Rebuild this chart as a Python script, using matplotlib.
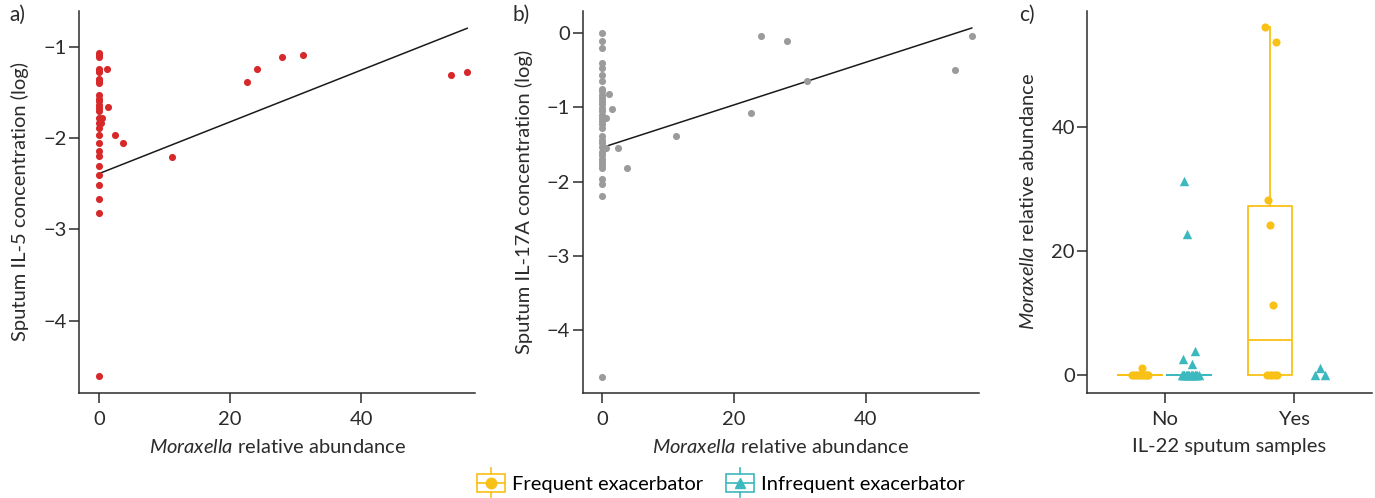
import matplotlib
matplotlib.use('Agg')
from matplotlib import pyplot as plt
from matplotlib.legend_handler import HandlerBase
from matplotlib.lines import Line2D
from matplotlib.patches import Rectangle

plt.rcParams['font.family'] = ['Lato', 'DejaVu Sans']
plt.rcParams['mathtext.fontset'] = 'custom'
plt.rcParams['mathtext.rm'] = 'Lato'
plt.rcParams['mathtext.it'] = 'Lato:italic'
plt.rcParams['font.size'] = 14.5

# --- a) IL-5 vs Moraxella -------------------------------------------------
il5_abund = [
    0, 0, 0, 0, 0, 0, 0, 0, 0, 0, 0, 0, 0, 0,
    0, 0, 0, 0, 0, 0, 0, 0, 0, 0, 0, 0, 0, 0,
    1.17, 1.42, 0.5, 0.25, 2.44, 3.7, 11.2, 22.6, 24.1, 28.0, 31.2, 53.8, 56.2,
]
il5_conc = [
    -1.07, -1.09, -1.11, -1.24, -1.27, -1.28, -1.36, -1.38, -1.40, -1.53, -1.57, -1.60, -1.64, -1.67,
    -1.71, -1.78, -1.84, -1.89, -1.97, -2.05, -2.14, -2.20, -2.31, -2.41, -2.52, -2.67, -2.82, -4.60,
    -1.24, -1.66, -1.78, -1.84, -1.97, -2.05, -2.21, -1.39, -1.24, -1.11, -1.09, -1.31, -1.28,
]
il5_fit = (-2.39, 0.0283)  # intercept, slope

# --- b) IL-17A vs Moraxella -----------------------------------------------
il17_abund = [
    0, 0, 0, 0, 0, 0, 0, 0, 0, 0, 0, 0, 0, 0, 0, 0, 0,
    0, 0, 0, 0, 0, 0, 0, 0, 0, 0, 0, 0, 0, 0, 0, 0, 0,
    0.97, 1.48, 0.56, 0.5, 2.29, 3.7, 11.1, 22.5, 24.1, 28.1, 31.1, 53.6, 56.1,
]
il17_conc = [
    0.0, -0.11, -0.20, -0.40, -0.47, -0.56, -0.64, -0.75, -0.78, -0.83, -0.87, -0.92, -0.96, -1.01, -1.05, -1.10, -1.14,
    -1.19, -1.23, -1.28, -1.39, -1.44, -1.48, -1.53, -1.60, -1.64, -1.69, -1.73, -1.78, -1.82, -1.96, -2.03, -2.20, -4.63,
    -0.82, -1.02, -1.14, -1.55, -1.55, -1.82, -1.38, -1.07, -0.04, -0.10, -0.65, -0.49, -0.04,
]
il17_fit = (-1.54, 0.0287)

# --- c) Moraxella by IL-22 detection and exacerbator status ---------------
il22_groups = ['No', 'Yes']
exacerbators = ['Frequent exacerbator', 'Infrequent exacerbator']

no_freq = [0, 0, 0, 0, 0, 0, 0, 0, 0, 0, 1.2]
no_freq_jitter = [-0.255, -0.24, -0.225, -0.21, -0.195, -0.18, -0.165, -0.15, -0.14, -0.13, -0.178]
no_infreq = [0, 0, 0, 0, 0, 0, 0, 0, 0, 0, 0, 0, 0, 0, 0, 0, 31.2, 22.7, 3.9, 2.6, 1.8]
no_infreq_jitter = [0.13, 0.14, 0.15, 0.16, 0.17, 0.18, 0.19, 0.20, 0.21, 0.22, 0.23, 0.24, 0.25, 0.26,
                    0.145, 0.235, 0.147, 0.173, 0.232, 0.137, 0.206]
yes_freq = [55.97, 53.6, 28.2, 24.1, 11.3, 0, 0, 0, 0, 0]
yes_freq_jitter = [-0.222, -0.139, -0.206, -0.183, -0.16, -0.21, -0.19, -0.17, -0.15, -0.13]
yes_infreq = [0.1, 1.1, 0.1]
yes_infreq_jitter = [0.16, 0.20, 0.237]

RED = '#D7282A'
GREY = '#9B9B9B'
YELLOW = '#F9C015'
TEAL = '#3CB9BF'
INK = '#2b2b2b'


def style(ax: plt.Axes) -> None:
    for side in ('top', 'right'):
        ax.spines[side].set_visible(False)
    for side in ('left', 'bottom'):
        ax.spines[side].set_linewidth(1.1)
        ax.spines[side].set_color(INK)
    ax.tick_params(direction='out', length=7, width=1.1, color=INK, labelcolor=INK, labelsize=14.5)
    ax.tick_params(axis='x', pad=6)
    ax.tick_params(axis='y', pad=2)


def scatter_panel(ax, x, y, fit, colour, ylabel, xlim, ylim, yticks):
    style(ax)
    ax.scatter(x, y, s=26, color=colour, linewidths=0, zorder=3)
    x0, x1 = 0, max(x)
    b0, b1 = fit
    ax.plot([x0, x1], [b0 + b1 * x0, b0 + b1 * x1], color='#1a1a1a', linewidth=1.1, zorder=2)
    ax.set_xlim(*xlim)
    ax.set_ylim(*ylim)
    ax.set_xticks([0, 20, 40])
    ax.set_yticks(yticks)
    ax.set_xlabel(r'$\mathit{Moraxella}$ relative abundance', color=INK, labelpad=7)
    ax.set_ylabel(ylabel, color=INK, labelpad=10)


class BoxHandler(HandlerBase):
    def __init__(self, colour, marker):
        super().__init__()
        self.colour = colour
        self.marker = marker

    def create_artists(self, legend, orig_handle, xdescent, ydescent, width, height, fontsize, trans):
        cx, cy = width / 2 - xdescent, height / 2 - ydescent
        bw, bh = width * 0.92, height * 1.0
        box = Rectangle((cx - bw / 2, cy - bh / 2), bw, bh, facecolor='white',
                        edgecolor=self.colour, linewidth=1.2, transform=trans)
        med = Line2D([cx - bw / 2, cx + bw / 2], [cy, cy], color=self.colour, linewidth=1.2, transform=trans)
        up = Line2D([cx, cx], [cy + bh / 2, cy + bh / 2 + 4], color=self.colour, linewidth=1.2, transform=trans)
        dn = Line2D([cx, cx], [cy - bh / 2, cy - bh / 2 - 4], color=self.colour, linewidth=1.2, transform=trans)
        mk = Line2D([cx], [cy], marker=self.marker, markersize=7.5, color=self.colour,
                    linestyle='none', transform=trans)
        return [box, med, up, dn, mk]


fig = plt.figure(figsize=(13.75, 4.98), dpi=100)
ax_a = fig.add_axes([0.0575, 0.211, 0.288, 0.767])
ax_b = fig.add_axes([0.4238, 0.211, 0.2882, 0.767])
ax_c = fig.add_axes([0.7908, 0.211, 0.2068, 0.767])

scatter_panel(ax_a, il5_abund, il5_conc, il5_fit, RED, 'Sputum IL-5 concentration (log)',
              (-3.05, 57.4), (-4.79, -0.61), [-4, -3, -2, -1])
scatter_panel(ax_b, il17_abund, il17_conc, il17_fit, GREY, 'Sputum IL-17A concentration (log)',
              (-3.0, 57.2), (-4.85, 0.30), [-4, -3, -2, -1, 0])

# boxes + jittered points, dodged either side of each IL-22 category
style(ax_c)
groups = [
    (0, no_freq, no_freq_jitter, YELLOW, 'o', -0.19),
    (0, no_infreq, no_infreq_jitter, TEAL, '^', 0.19),
    (1, yes_freq, yes_freq_jitter, YELLOW, 'o', -0.19),
    (1, yes_infreq, yes_infreq_jitter, TEAL, '^', 0.19),
]
for cat, vals, jit, colour, marker, dodge in groups:
    if len(vals) > 3:
        props = dict(color=colour, linewidth=1.3)
        ax_c.boxplot([vals], positions=[cat + dodge], widths=0.34, whis=1.5, showfliers=False,
                     showcaps=False, patch_artist=False, manage_ticks=False,
                     boxprops=props, whiskerprops=props, medianprops=props, zorder=2)
    ax_c.scatter([cat + j for j in jit], vals, s=34 if marker == 'o' else 46, marker=marker,
                 color=colour, linewidths=0, zorder=3)

ax_c.set_xlim(-0.6, 1.6)
ax_c.set_ylim(-2.85, 58.6)
ax_c.set_xticks([0, 1], il22_groups)
ax_c.set_yticks([0, 20, 40])
ax_c.set_xlabel('IL-22 sputum samples', color=INK, labelpad=7)
ax_c.set_ylabel(r'$\mathit{Moraxella}$ relative abundance', color=INK, labelpad=10)

for label, x in (('a)', 0.007), ('b)', 0.373), ('c)', 0.741)):
    fig.text(x, 0.97, label, fontsize=15, color=INK, va='center')

handles = [Line2D([], []), Line2D([], [])]
fig.legend(handles, exacerbators, loc='lower center', ncol=2, frameon=False,
           bbox_to_anchor=(0.524, -0.026), fontsize=14.5, handlelength=1.5, handleheight=1.0,
           handletextpad=0.3, columnspacing=1.1,
           handler_map={handles[0]: BoxHandler(YELLOW, 'o'), handles[1]: BoxHandler(TEAL, '^')})

fig.savefig('out.png', dpi=100)
